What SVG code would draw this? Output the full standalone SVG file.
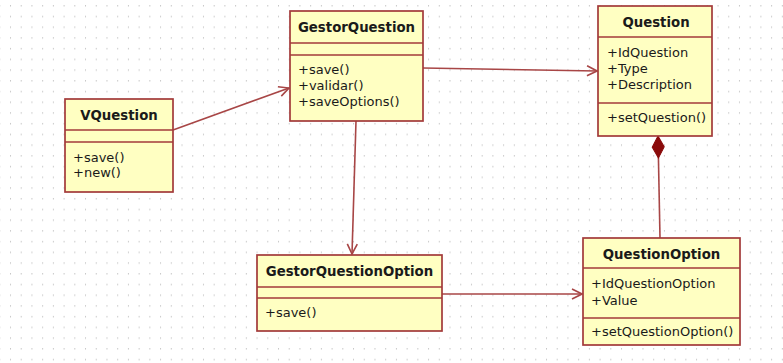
<svg xmlns="http://www.w3.org/2000/svg" width="783" height="363" viewBox="0 0 783 363">
  <defs>
    <pattern id="grid" x="10" y="5" width="10.72" height="10.72" patternUnits="userSpaceOnUse">
      <rect width="1" height="1.5" fill="#c6c6c6"/>
    </pattern>
    <marker id="open" viewBox="0 0 12 12" refX="11" refY="6" markerWidth="12" markerHeight="12" markerUnits="userSpaceOnUse" orient="auto">
      <path d="M1,1 L11,6 L1,11" fill="none" stroke="#a84646" stroke-width="1.6"/>
    </marker>
    <marker id="diamond" viewBox="0 0 24 14" refX="0" refY="7" markerWidth="24" markerHeight="14" markerUnits="userSpaceOnUse" orient="auto">
      <path d="M0,7 L11,1 L22,7 L11,13 Z" fill="#8a0a0a" stroke="#8a0a0a" stroke-width="1"/>
    </marker>
    <style>
      .box { fill: #ffffc2; stroke: #a33a3a; stroke-width: 1.7; }
      .sep { stroke: #a33a3a; stroke-width: 1.7; }
      .title { font-family: "DejaVu Sans", "Liberation Sans", sans-serif; font-weight: bold; font-size: 13.3px; fill: #1a1a1a; text-anchor: middle; }
      .member { font-family: "DejaVu Sans", "Liberation Sans", sans-serif; font-size: 13px; fill: #1a1a1a; }
      .link { fill: none; stroke: #a84646; stroke-width: 1.6; }
    </style>
  </defs>

  <!-- dotted canvas -->
  <rect width="783" height="363" fill="#ffffff"/>
  <rect width="783" height="363" fill="url(#grid)"/>

  <!-- connectors -->
  <g id="connectors">
    <line class="link" x1="173" y1="130" x2="289" y2="88" marker-end="url(#open)"/>
    <line class="link" x1="423" y1="68" x2="597" y2="71" marker-end="url(#open)"/>
    <line class="link" x1="356" y1="121" x2="352" y2="254" marker-end="url(#open)"/>
    <line class="link" x1="442" y1="294" x2="582" y2="294" marker-end="url(#open)"/>
    <line class="link" x1="658" y1="136" x2="660" y2="238" marker-start="url(#diamond)"/>
  </g>

  <!-- VQuestion -->
  <g id="VQuestion">
    <rect class="box" x="65" y="99" width="108" height="93"/>
    <line class="sep" x1="65" y1="130" x2="173" y2="130"/>
    <line class="sep" x1="65" y1="142" x2="173" y2="142"/>
    <text class="title" x="119" y="120">VQuestion</text>
    <text class="member" x="73" y="162">+save()</text>
    <text class="member" x="73" y="177">+new()</text>
  </g>

  <!-- GestorQuestion -->
  <g id="GestorQuestion">
    <rect class="box" x="290" y="11" width="133" height="110"/>
    <line class="sep" x1="290" y1="43" x2="423" y2="43"/>
    <line class="sep" x1="290" y1="55" x2="423" y2="55"/>
    <text class="title" x="356.5" y="32">GestorQuestion</text>
    <text class="member" x="298" y="74">+save()</text>
    <text class="member" x="298" y="90">+validar()</text>
    <text class="member" x="298" y="106">+saveOptions()</text>
  </g>

  <!-- Question -->
  <g id="Question">
    <rect class="box" x="598" y="6" width="114" height="130"/>
    <line class="sep" x1="598" y1="37" x2="712" y2="37"/>
    <line class="sep" x1="598" y1="103" x2="712" y2="103"/>
    <text class="title" x="656" y="27">Question</text>
    <text class="member" x="607" y="57">+IdQuestion</text>
    <text class="member" x="607" y="73">+Type</text>
    <text class="member" x="607" y="89">+Description</text>
    <text class="member" x="607" y="122">+setQuestion()</text>
  </g>

  <!-- GestorQuestionOption -->
  <g id="GestorQuestionOption">
    <rect class="box" x="257" y="255" width="185" height="76"/>
    <line class="sep" x1="257" y1="287" x2="442" y2="287"/>
    <line class="sep" x1="257" y1="298" x2="442" y2="298"/>
    <text class="title" x="349.5" y="276">GestorQuestionOption</text>
    <text class="member" x="265" y="317">+save()</text>
  </g>

  <!-- QuestionOption -->
  <g id="QuestionOption">
    <rect class="box" x="583" y="238" width="157" height="107"/>
    <line class="sep" x1="583" y1="268" x2="740" y2="268"/>
    <line class="sep" x1="583" y1="318" x2="740" y2="318"/>
    <text class="title" x="661.5" y="259">QuestionOption</text>
    <text class="member" x="591" y="288">+IdQuestionOption</text>
    <text class="member" x="591" y="305">+Value</text>
    <text class="member" x="591" y="336">+setQuestionOption()</text>
  </g>
</svg>
